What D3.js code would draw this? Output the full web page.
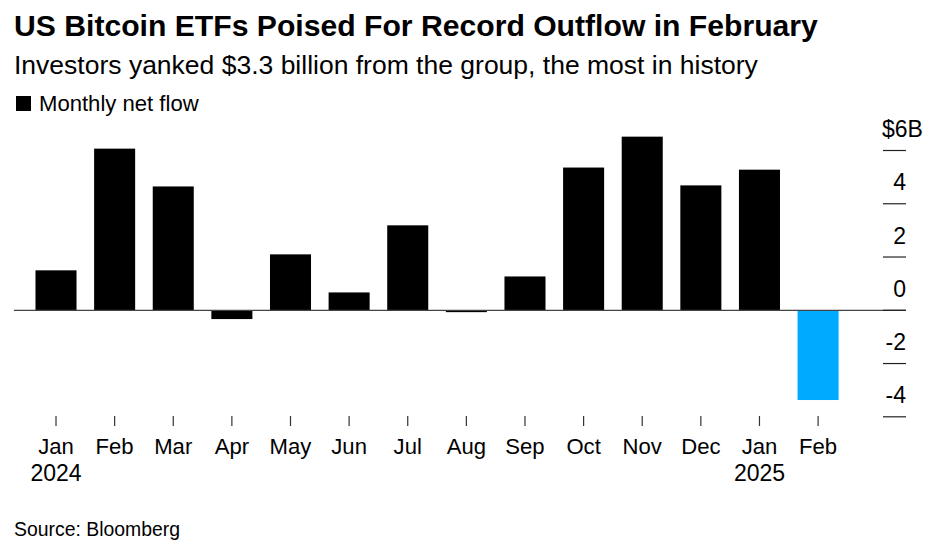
<!DOCTYPE html>
<html><head><meta charset="utf-8">
<script src="https://cdn.jsdelivr.net/npm/d3@7"></script>
<style>html,body{margin:0;padding:0;background:#fff}svg{display:block}text{font-family:"Liberation Sans",Arial,sans-serif;fill:#000}</style>
</head><body><svg id="c" width="941" height="550"></svg>
<script>
const months=["Jan","Feb","Mar","Apr","May","Jun","Jul","Aug","Sep","Oct","Nov","Dec","Jan","Feb"];
const years=["2024","","","","","","","","","","","","2025",""];
const flows=[1.5,6.07,4.65,-0.33,2.1,0.67,3.19,-0.07,1.27,5.36,6.52,4.69,5.28,-3.37];
const yTicks=[6,4,2,0,-2,-4];
const yLabels=["$6B","4","2","0","-2","-4"];
const svg=d3.select("#c");
const keys=months.map((m,i)=>i);
const x=d3.scaleBand().domain(keys).range([26.7,847.4]).paddingInner(0.3).paddingOuter(0.15);
const y=d3.scaleLinear().domain([-4,6]).range([416.8,150.5]);
svg.append("text").attr("x",14).attr("y",36).attr("font-size",30.15).attr("font-weight",700).text("US Bitcoin ETFs Poised For Record Outflow in February");
svg.append("text").attr("x",14).attr("y",74).attr("font-size",26.5).text("Investors yanked $3.3 billion from the group, the most in history");
svg.append("rect").attr("x",16).attr("y",96).attr("width",15).attr("height",15).attr("fill","#000");
svg.append("text").attr("x",39).attr("y",111).attr("font-size",22.1).text("Monthly net flow");
svg.selectAll(".bar").data(flows).join("rect").attr("class","bar")
 .attr("x",(d,i)=>x(i)).attr("width",x.bandwidth())
 .attr("y",d=>y(Math.max(d,0))).attr("height",d=>Math.abs(y(d)-y(0)))
 .attr("fill",d=>d<-1?"#00aaff":"#000");
svg.append("line").attr("x1",14).attr("x2",906).attr("y1",y(0)).attr("y2",y(0)).attr("stroke","#444").attr("stroke-width",1.2);
yTicks.forEach((t,i)=>{
 svg.append("line").attr("x1",883).attr("x2",906).attr("y1",y(t)).attr("y2",y(t)).attr("stroke","#222").attr("stroke-width",1.2);
 const lab=svg.append("text").attr("y",y(t)-13.4).attr("font-size",23).text(yLabels[i]);
 if(i===0) lab.attr("x",882).attr("text-anchor","start");
 else lab.attr("x",906).attr("text-anchor","end");
});
keys.forEach(i=>{
 const cx=x(i)+x.bandwidth()/2;
 svg.append("line").attr("x1",cx).attr("x2",cx).attr("y1",416).attr("y2",426).attr("stroke","#333").attr("stroke-width",1.2);
 svg.append("text").attr("x",cx).attr("y",453.5).attr("text-anchor","middle").attr("font-size",22.1).text(months[i]);
 if(years[i])svg.append("text").attr("x",cx).attr("y",480.5).attr("text-anchor","middle").attr("font-size",23).text(years[i]);
});
svg.append("text").attr("x",14).attr("y",535.5).attr("font-size",19.4).text("Source: Bloomberg");
</script></body></html>
